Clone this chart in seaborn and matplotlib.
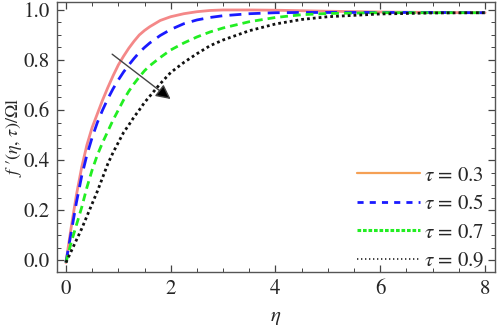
import seaborn as sns
import matplotlib.pyplot as plt
import numpy as np
import pandas as pd
from matplotlib.lines import Line2D
from matplotlib.ticker import MultipleLocator

# values
eta = [0, 0.1, 0.2, 0.3, 0.4, 0.5, 0.6, 0.7, 0.8, 0.9, 1.0, 1.1, 1.2, 1.3, 1.4,
       1.5, 1.6, 1.8, 2.0, 2.25, 2.5, 2.75, 3.0, 3.5, 4.0, 4.5, 5, 6, 7, 8]
f_03 = [-0.01, 0.13, 0.26, 0.37, 0.46, 0.53, 0.585, 0.64, 0.69, 0.737, 0.78, 0.815,
        0.847, 0.875, 0.9, 0.918, 0.933, 0.958, 0.973, 0.985, 0.993, 0.998, 1.0, 1.0,
        0.999, 0.997, 0.995, 0.992, 0.99, 0.989]
f_05 = [-0.01, 0.11, 0.23, 0.335, 0.42, 0.49, 0.55, 0.6, 0.645, 0.685, 0.72, 0.752,
        0.78, 0.806, 0.83, 0.85, 0.868, 0.898, 0.922, 0.945, 0.96, 0.97, 0.977, 0.985,
        0.989, 0.99, 0.99, 0.99, 0.99, 0.989]
f_07 = [-0.01, 0.07, 0.14, 0.21, 0.29, 0.36, 0.42, 0.47, 0.515, 0.56, 0.6, 0.64,
        0.675, 0.705, 0.732, 0.757, 0.777, 0.81, 0.84, 0.868, 0.892, 0.912, 0.928,
        0.953, 0.97, 0.981, 0.986, 0.989, 0.989, 0.989]
f_09 = [-0.01, 0.035, 0.08, 0.125, 0.175, 0.225, 0.275, 0.33, 0.385, 0.43, 0.47,
        0.51, 0.54, 0.572, 0.6, 0.63, 0.655, 0.705, 0.75, 0.79, 0.825, 0.857, 0.88,
        0.917, 0.944, 0.962, 0.973, 0.984, 0.988, 0.989]
tau_labels = ["0.3", "0.5", "0.7", "0.9"]

df = pd.DataFrame({
    "eta": eta * 4,
    "f": f_03 + f_05 + f_07 + f_09,
    "tau": sum([[t] * len(eta) for t in tau_labels], []),
})

sns.set_style("ticks")
plt.rcParams["font.family"] = "serif"
plt.rcParams["font.serif"] = ["STIXGeneral", "Liberation Serif", "DejaVu Serif"]
plt.rcParams["mathtext.fontset"] = "stix"

fig = plt.figure(figsize=(4.98, 3.27), dpi=100)
ax = fig.add_axes([0.1145, 0.168, 0.8795, 0.826])

palette = {"0.3": "#f48888", "0.5": "#1a1aff", "0.7": "#22ee22", "0.9": "#111111"}
dashes = {"0.3": "", "0.5": (4.3, 2.6), "0.7": (2.8, 1.8), "0.9": (1.0, 1.1)}
sns.lineplot(df, x="eta", y="f", hue="tau", style="tau", palette=palette,
             dashes=dashes, linewidth=2, ax=ax, legend=False)

# arrow showing increasing tau
ax.annotate("", xy=(2.04, 0.637), xytext=(0.84, 0.83),
            arrowprops=dict(arrowstyle="-|>", color="#555555", lw=1,
                            mutation_scale=22, fc="black", ec="#444444"))

ax.set_xlim(-0.17, 8.19)
ax.set_ylim(-0.048, 1.032)
ax.xaxis.set_major_locator(MultipleLocator(2))
ax.xaxis.set_minor_locator(MultipleLocator(0.5))
ax.yaxis.set_minor_locator(MultipleLocator(0.05))
ax.set_yticks([0, 0.2, 0.4, 0.6, 0.8, 1.0])
ax.set_yticklabels(["0.0", "0.2", "0.4", "0.6", "0.8", "1.0"])
ax.tick_params(which="both", direction="in", top=True, right=True,
               labelsize=15, color="#444444", pad=5)
ax.tick_params(which="major", length=5, width=0.9)
ax.tick_params(which="minor", length=3, width=0.7)
for s in ax.spines.values():
    s.set_color("#555555")
    s.set_linewidth(1)

ax.set_xlabel(r"$\eta$", fontsize=15, labelpad=6)
ax.set_ylabel(r"$f$" + " \u2032(" + r"$\eta$, $\tau$" + ")/\u03a9l", fontsize=13)
ax.yaxis.set_label_coords(-0.075, 0.5)

# legend drawn Mathematica style
handles = [
    Line2D([], [], color="#f5a055", lw=1.6),
    Line2D([], [], color="#1a1aff", lw=2, dashes=(2.2, 2.2)),
    Line2D([], [], color="#22ee22", lw=2.2, dashes=(1.2, 0.6)),
    Line2D([], [], color="#222222", lw=1.2, dashes=(0.8, 1.6)),
]
labels = [r"$\tau$ = " + t for t in tau_labels]
ax.legend(handles, labels, loc="lower right", frameon=False, fontsize=15,
          handlelength=3.0, handletextpad=0.2, labelspacing=0.42,
          borderaxespad=0.1, bbox_to_anchor=(1.0, -0.035))

plt.savefig("out.png", dpi=100)
